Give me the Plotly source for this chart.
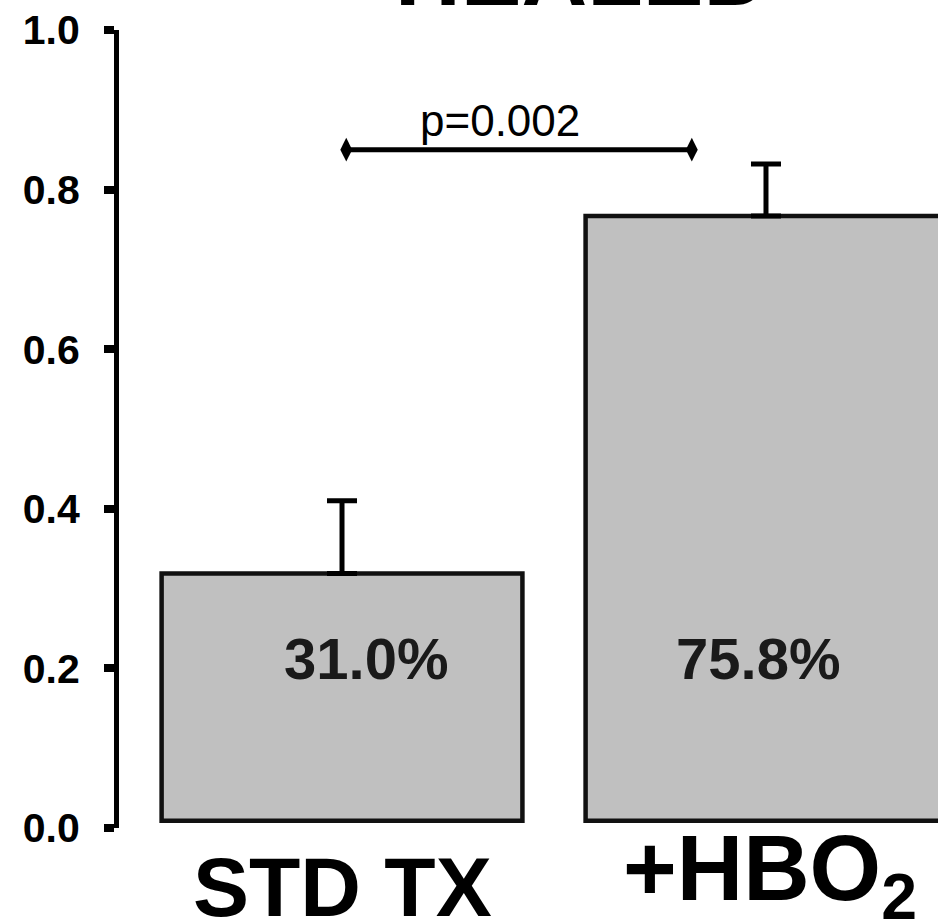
import plotly.graph_objects as go

# ---- data ----
categories = ["STD TX", "+HBO<sub>2</sub>"]
healed_fraction = [0.310, 0.758]
error_upper = [0.091, 0.065]
bar_labels = ["31.0%", "75.8%"]
y_tick_values = [0.0, 0.2, 0.4, 0.6, 0.8, 1.0]
y_tick_labels = ["0.0", "0.2", "0.4", "0.6", "0.8", "1.0"]
p_value_text = "p=0.002"
title_text = "HEALED"

# ---- styling / layout constants ----
FONT = "Liberation Sans, Arial, sans-serif"
BAR_BASE = 0.009
BAR_WIDTH = 0.851
LABEL_X_OFFSETS = [0.057, -0.02]
LABEL_Y = 0.213
BRACKET_X = [0.01, 0.825]
BRACKET_Y = 0.85
P_TEXT_X = 0.373
P_TEXT_Y = 0.887

x_pos = list(range(len(categories)))

fig = go.Figure()
fig.add_trace(go.Bar(
    x=x_pos, y=healed_fraction, base=BAR_BASE, width=BAR_WIDTH,
    marker=dict(color="#c0c0c0", line=dict(color="#111111", width=4.5)),
    error_y=dict(type="data", symmetric=False, array=error_upper,
                 arrayminus=[0] * len(error_upper),
                 color="black", thickness=5, width=15),
    hoverinfo="skip", showlegend=False,
))

fig.add_trace(go.Scatter(
    x=BRACKET_X, y=[BRACKET_Y, BRACKET_Y], mode="lines+markers",
    line=dict(color="black", width=5),
    marker=dict(symbol="diamond-tall", size=17, color="black"),
    hoverinfo="skip", showlegend=False,
))

annotations = []
for i, lab in enumerate(bar_labels):
    annotations.append(dict(
        x=x_pos[i] + LABEL_X_OFFSETS[i], y=LABEL_Y, xref="x", yref="y",
        text=f"<b>{lab}</b>", showarrow=False, xanchor="center", yanchor="middle",
        font=dict(family=FONT, size=58, color="#1a1a1a"),
    ))

cat_sizes = [84, 92]
cat_shifts = [-10, 13]
cat_xshifts = [0, 4]
for i, cat in enumerate(categories):
    annotations.append(dict(
        x=x_pos[i], y=0, xref="x", yref="paper",
        text=f"<b>{cat}</b>", showarrow=False, xanchor="center", yanchor="top",
        yshift=cat_shifts[i], xshift=cat_xshifts[i],
        font=dict(family=FONT, size=cat_sizes[i], color="black"),
    ))

annotations.append(dict(
    x=P_TEXT_X, y=P_TEXT_Y, xref="x", yref="y", text=p_value_text,
    showarrow=False, xanchor="center", yanchor="middle",
    font=dict(family=FONT, size=44, color="black"),
))

annotations.append(dict(
    x=0.566, y=1, xref="x", yref="paper", text=f"<b>{title_text}</b>",
    showarrow=False, xanchor="center", yanchor="bottom", yshift=4,
    font=dict(family=FONT, size=91, color="black"),
))

fig.update_layout(
    width=938, height=921,
    margin=dict(l=119, r=0, t=30, b=93, pad=0),
    paper_bgcolor="white", plot_bgcolor="white",
    showlegend=False,
    annotations=annotations,
    xaxis=dict(range=[-0.526, 1.4057], showticklabels=False, showline=False,
               showgrid=False, zeroline=False, ticks=""),
    yaxis=dict(range=[0, 1], tickvals=y_tick_values, ticktext=y_tick_labels,
               ticks="outside", ticklen=10, tickwidth=8, tickcolor="black",
               showline=True, linewidth=5, linecolor="black",
               showgrid=False, zeroline=False, ticklabelstandoff=16,
               tickfont=dict(family=FONT, size=41, color="black", weight="bold")),
)

fig.write_html("out.html", config={"displayModeBar": False},
               post_script="document.body.style.margin='0';document.body.style.overflow='hidden';")
